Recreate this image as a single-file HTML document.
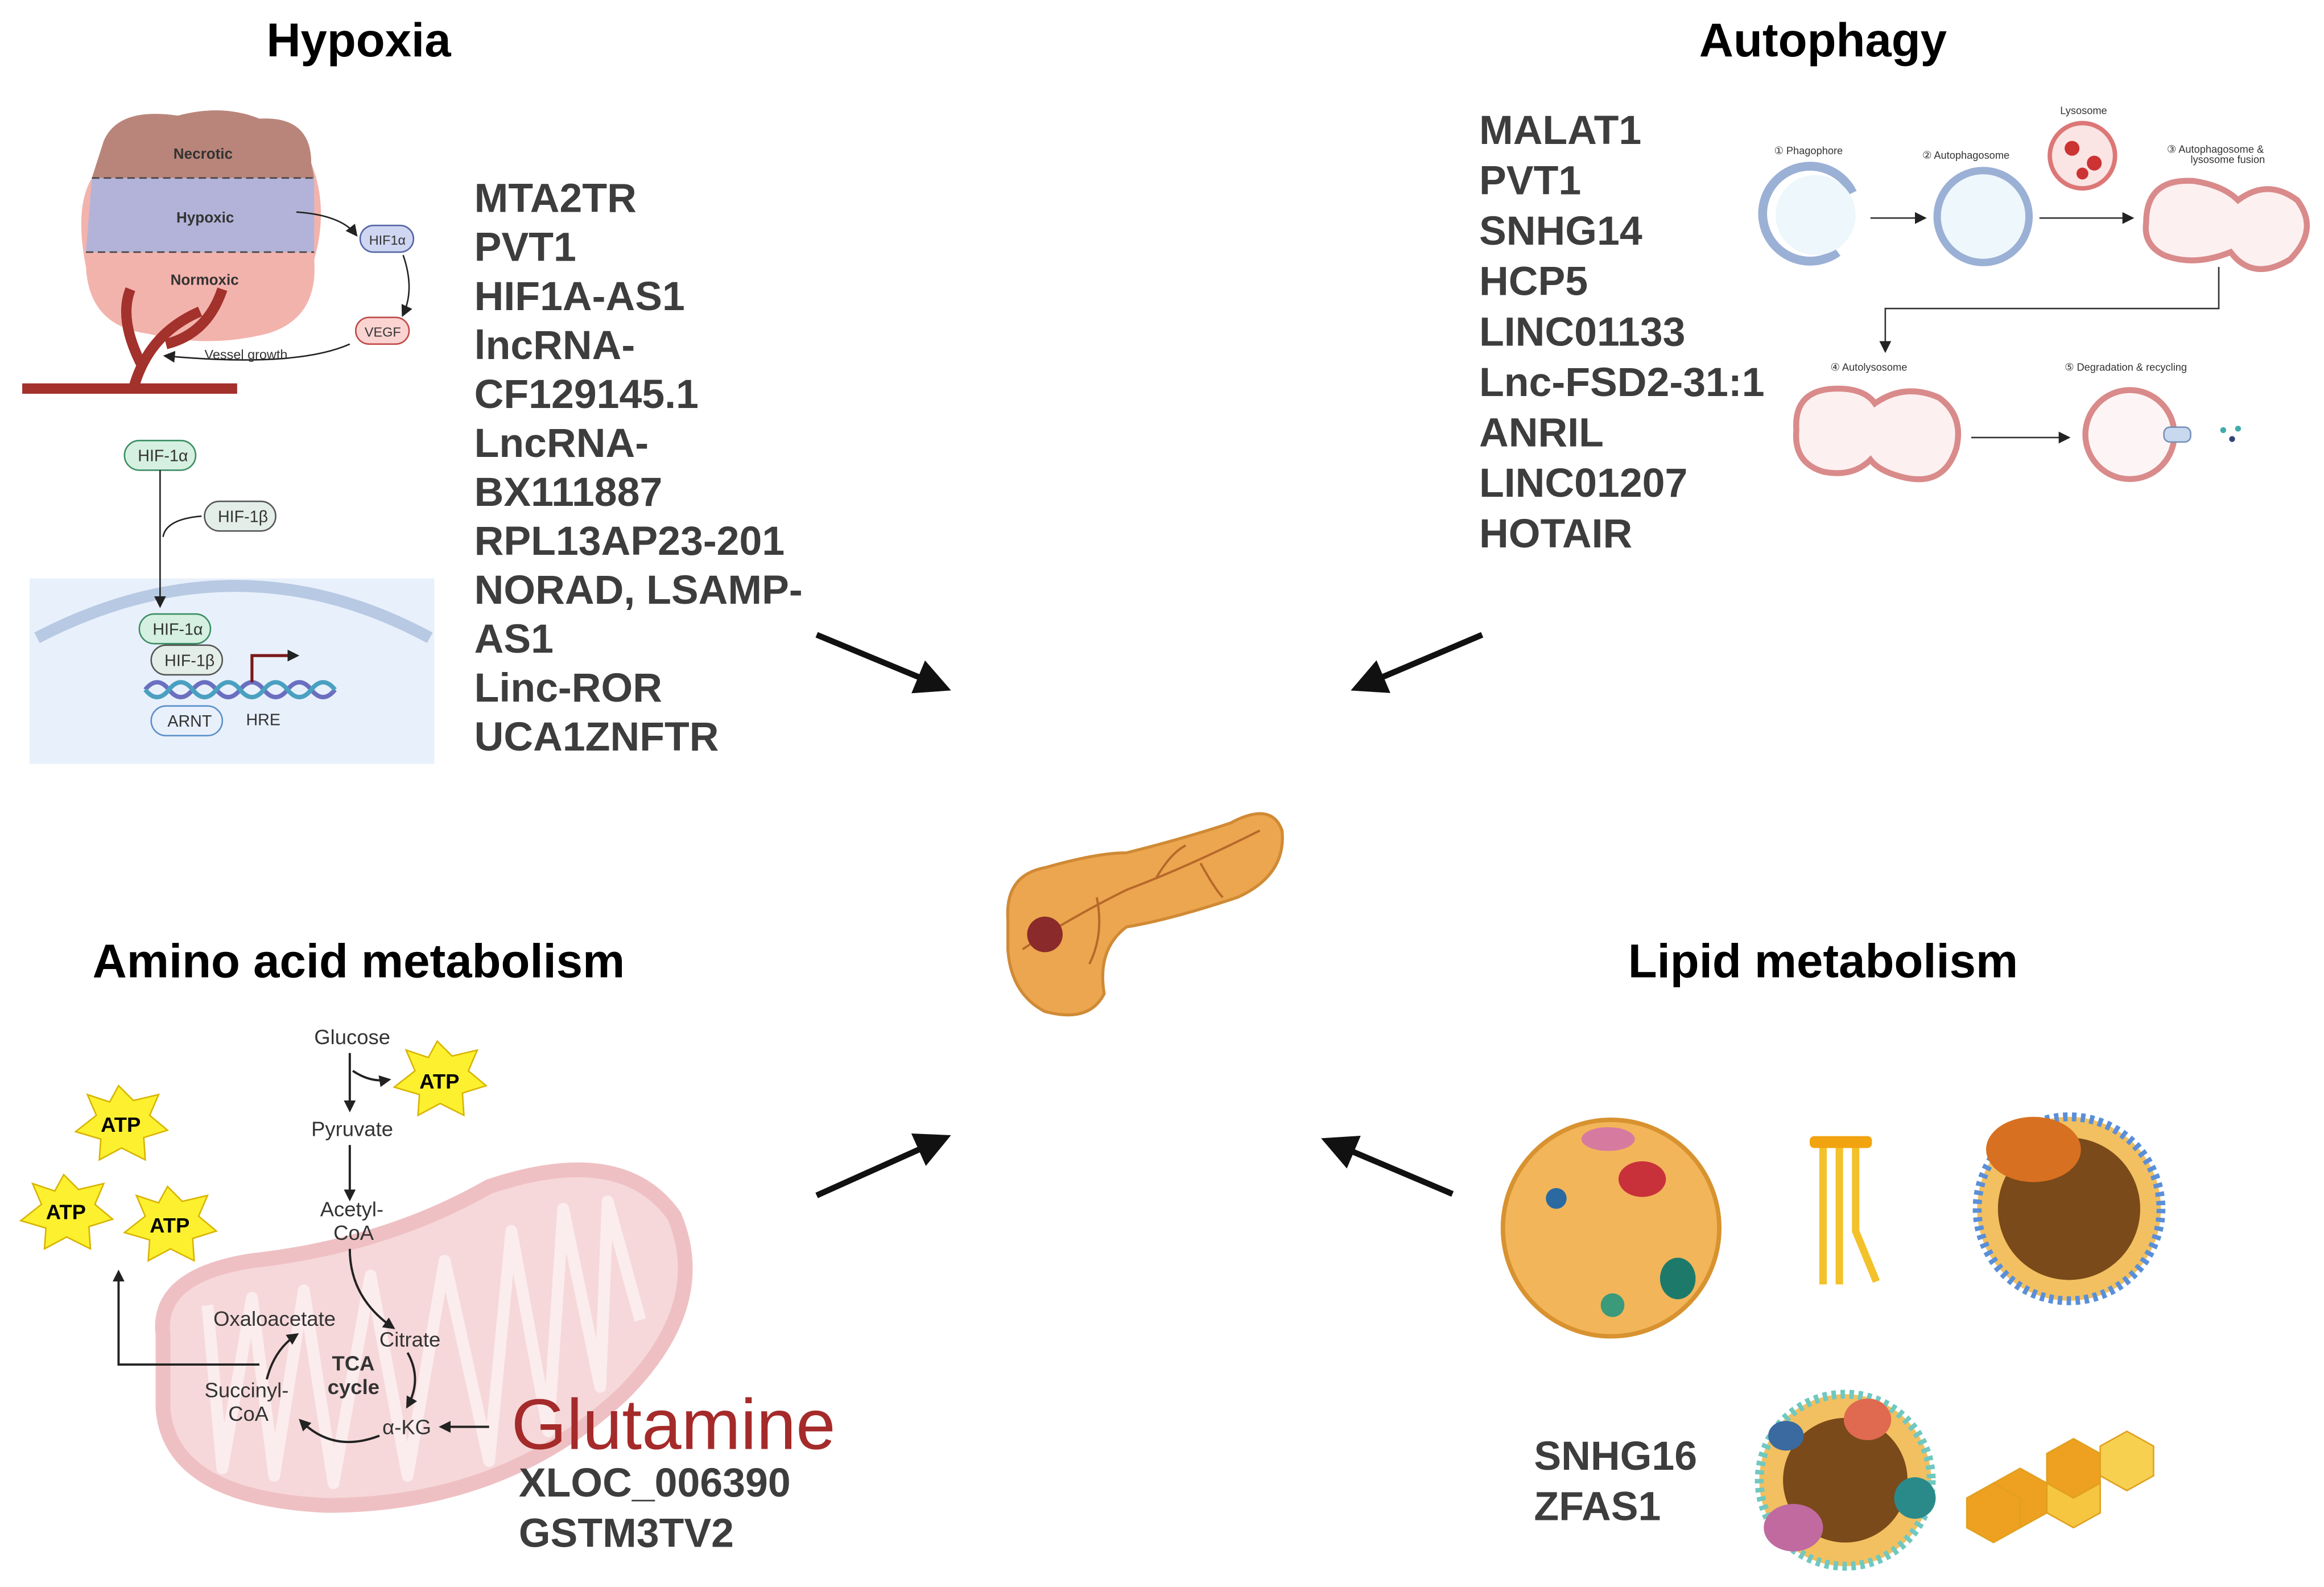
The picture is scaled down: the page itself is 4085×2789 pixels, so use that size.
<!DOCTYPE html>
<html><head><meta charset="utf-8"><style>
html,body{margin:0;padding:0;background:#fff;}
svg{display:block;}
text{font-family:"Liberation Sans",sans-serif;}
.t{font-weight:bold;font-size:32px;fill:#000;text-anchor:middle;}
.g{font-weight:bold;font-size:27.5px;fill:#3d3d3d;}
.s{fill:#333;}
.m{font-size:14px;fill:#333;}
</style></head><body>
<svg width="4085" height="2789" viewBox="0 0 1568 1070" preserveAspectRatio="none" xmlns="http://www.w3.org/2000/svg">
<defs>
<marker id="ah" markerWidth="6" markerHeight="6" refX="5" refY="3" orient="auto" markerUnits="strokeWidth"><path d="M0,0 L6,3 L0,6 z" fill="#111"/></marker>
<marker id="sa" markerWidth="8" markerHeight="8" refX="6" refY="4" orient="auto" markerUnits="userSpaceOnUse"><path d="M0,0 L8,4 L0,8 z" fill="#222"/></marker>
</defs>
<text class="t" x="242" y="38">Hypoxia</text>
<text class="t" x="1230" y="38">Autophagy</text>
<text class="t" x="242" y="659">Amino acid metabolism</text>
<text class="t" x="1230" y="659">Lipid metabolism</text>

<path d="M70,95 Q80,72 120,78 Q150,70 175,80 Q210,78 210,110 Q222,140 212,175 Q215,215 180,225 Q140,235 100,225 Q60,220 58,180 Q50,140 62,120 Z" fill="#f3b3ad"/>
<path d="M62,120 L212,120 L212,170 L58,170 Z" fill="#a7b3e0" opacity="0.85"/>
<path d="M70,95 Q80,72 120,78 Q150,70 175,80 Q210,78 210,110 L212,120 L62,120 Z" fill="#b9857a"/>
<line x1="62" y1="120" x2="212" y2="120" stroke="#444" stroke-dasharray="5,3"/>
<line x1="58" y1="170" x2="212" y2="170" stroke="#444" stroke-dasharray="5,3"/>
<text class="s" x="117" y="107" font-weight="bold" font-size="10">Necrotic</text>
<text class="s" x="119" y="150" font-weight="bold" font-size="10">Hypoxic</text>
<text class="s" x="115" y="192" font-weight="bold" font-size="10">Normoxic</text>
<path d="M15,262 L160,262 M90,262 Q100,225 135,210 M95,245 Q80,215 88,195 M112,232 Q140,225 150,195" stroke="#a3312c" stroke-width="7" fill="none"/>
<rect x="243" y="152" width="36" height="18" rx="9" fill="#cfd6f2" stroke="#5565a5"/><text class="s" x="249" y="165" font-size="9">HIF1α</text>
<rect x="240" y="214" width="36" height="18" rx="9" fill="#fbd4d2" stroke="#c04a48"/><text class="s" x="246" y="227" font-size="9">VEGF</text>
<path d="M200,143 Q230,145 240,158" stroke="#222" fill="none" marker-end="url(#sa)"/>
<path d="M272,172 Q280,195 272,212" stroke="#222" fill="none" marker-end="url(#sa)"/>
<path d="M236,232 Q200,248 112,240" stroke="#222" fill="none" marker-end="url(#sa)"/>
<text class="s" x="138" y="242" font-size="9">Vessel growth</text>

<rect x="20" y="390" width="273" height="125" fill="#e8f0fb"/>
<path d="M25,430 Q160,360 290,430" stroke="#b7c9e3" stroke-width="8" fill="none"/>
<rect x="84" y="297" width="48" height="20" rx="10" fill="#d5f0e0" stroke="#3b8d63"/><text class="s" x="93" y="311" font-size="11">HIF-1α</text>
<rect x="138" y="338" width="48" height="20" rx="10" fill="#e4eee8" stroke="#555"/><text class="s" x="147" y="352" font-size="11">HIF-1β</text>
<line x1="108" y1="317" x2="108" y2="408" stroke="#222" marker-end="url(#sa)"/>
<path d="M136,348 Q112,350 110,362" stroke="#222" fill="none"/>
<rect x="94" y="414" width="48" height="20" rx="10" fill="#d5f0e0" stroke="#3b8d63"/><text class="s" x="103" y="428" font-size="11">HIF-1α</text>
<rect x="102" y="435" width="48" height="20" rx="10" fill="#e4eee8" stroke="#555"/><text class="s" x="111" y="449" font-size="11">HIF-1β</text>
<path d="M98,465 q8,-10 16,0 t16,0 t16,0 t16,0 t16,0 t16,0 t16,0 t16,0" stroke="#6a6fc0" stroke-width="3" fill="none"/>
<path d="M98,465 q8,10 16,0 t16,0 t16,0 t16,0 t16,0 t16,0 t16,0 t16,0" stroke="#4aa0c0" stroke-width="3" fill="none"/>
<path d="M170,460 L170,442 L200,442" stroke="#7a1a1a" stroke-width="2" fill="none" marker-end="url(#sa)"/>
<rect x="102" y="476" width="48" height="20" rx="10" fill="#e8f0fb" stroke="#5b8fc9"/><text class="s" x="113" y="490" font-size="11">ARNT</text>
<text class="s" x="166" y="489" font-size="11" fill="#8a2a2a">HRE</text>

<text class="g" x="320" y="143">MTA2TR</text>
<text class="g" x="320" y="176">PVT1</text>
<text class="g" x="320" y="209">HIF1A-AS1</text>
<text class="g" x="320" y="242">lncRNA-</text>
<text class="g" x="320" y="275">CF129145.1</text>
<text class="g" x="320" y="308">LncRNA-</text>
<text class="g" x="320" y="341">BX111887</text>
<text class="g" x="320" y="374">RPL13AP23-201</text>
<text class="g" x="320" y="407">NORAD, LSAMP-</text>
<text class="g" x="320" y="440">AS1</text>
<text class="g" x="320" y="473">Linc-ROR</text>
<text class="g" x="320" y="506">UCA1ZNFTR</text>

<text class="g" x="998" y="97">MALAT1</text>
<text class="g" x="998" y="131">PVT1</text>
<text class="g" x="998" y="165">SNHG14</text>
<text class="g" x="998" y="199">HCP5</text>
<text class="g" x="998" y="233">LINC01133</text>
<text class="g" x="998" y="267">Lnc-FSD2-31:1</text>
<text class="g" x="998" y="301">ANRIL</text>
<text class="g" x="998" y="335">LINC01207</text>
<text class="g" x="998" y="369">HOTAIR</text>

<text class="s" x="1390" y="77" font-size="7">Lysosome</text>
<circle cx="1405" cy="105" r="22" fill="#fbe4e4" stroke="#d77" stroke-width="3"/>
<circle cx="1398" cy="100" r="5" fill="#c33"/><circle cx="1413" cy="110" r="5" fill="#c33"/><circle cx="1405" cy="117" r="4" fill="#c33"/>
<text class="s" x="1197" y="104" font-size="7">① Phagophore</text>
<path d="M1250,130 A32,32 0 1 0 1240,170" stroke="#9bb0d5" stroke-width="6" fill="none"/>
<circle cx="1225" cy="145" r="27" fill="#eef7fb"/>
<text class="s" x="1297" y="107" font-size="7">② Autophagosome</text>
<circle cx="1338" cy="146" r="31" fill="#eef7fb" stroke="#9bb0d5" stroke-width="5"/>
<line x1="1262" y1="147" x2="1298" y2="147" stroke="#333" marker-end="url(#sa)"/>
<line x1="1376" y1="147" x2="1438" y2="147" stroke="#333" marker-end="url(#sa)"/>
<text class="s" x="1462" y="103" font-size="7">③ Autophagosome &amp;</text>
<text class="s" x="1478" y="110" font-size="7">lysosome fusion</text>
<path d="M1448,150 Q1448,120 1480,122 Q1500,125 1510,135 Q1530,120 1550,135 Q1565,155 1545,175 Q1520,190 1505,170 Q1480,180 1460,172 Q1446,165 1448,150Z" fill="#fdf0f0" stroke="#d98a8a" stroke-width="4"/>
<path d="M1497,180 L1497,208 L1272,208 L1272,236" stroke="#333" fill="none" marker-end="url(#sa)"/>
<text class="s" x="1235" y="250" font-size="7">④ Autolysosome</text>
<path d="M1212,290 Q1210,262 1240,262 Q1258,262 1265,272 Q1285,258 1308,268 Q1325,280 1320,302 Q1312,328 1285,322 Q1268,318 1262,310 Q1250,322 1230,318 Q1210,312 1212,290Z" fill="#fdf0f0" stroke="#d98a8a" stroke-width="4"/>
<line x1="1330" y1="295" x2="1395" y2="295" stroke="#333" marker-end="url(#sa)"/>
<text class="s" x="1393" y="250" font-size="7">⑤ Degradation &amp; recycling</text>
<circle cx="1437" cy="293" r="30" fill="#fdf5f5" stroke="#d98a8a" stroke-width="4"/>
<rect x="1460" y="288" width="18" height="10" rx="4" fill="#c8d8ee" stroke="#7790b8"/>
<circle cx="1500" cy="290" r="2" fill="#4aa"/><circle cx="1506" cy="296" r="2" fill="#347"/><circle cx="1510" cy="289" r="2" fill="#4aa"/>

<g stroke="#111" stroke-width="4" fill="none">
<line x1="551" y1="428" x2="638" y2="464" marker-end="url(#ah)"/>
<line x1="1000" y1="428" x2="915" y2="464" marker-end="url(#ah)"/>
<line x1="551" y1="806" x2="638" y2="767" marker-end="url(#ah)"/>
<line x1="980" y1="805" x2="895" y2="769" marker-end="url(#ah)"/>
</g>

<path d="M680,620 Q678,590 705,585 Q740,575 760,575 Q800,565 830,555 Q858,540 865,560 Q868,590 835,605 Q790,620 760,625 Q740,640 745,670 Q735,690 705,682 Q682,670 680,640Z" fill="#eba64f" stroke="#d08a35" stroke-width="2"/>
<path d="M690,640 Q720,620 760,600 Q800,585 850,560 M740,605 Q745,630 735,650 M780,592 Q790,575 800,570 M810,582 Q820,600 825,605" stroke="#b8682a" stroke-width="1.5" fill="none"/>
<circle cx="705" cy="630" r="12" fill="#8a2a2a"/>

<path d="M110,900 Q105,860 170,850 Q260,840 330,800 Q420,770 455,820 Q480,880 420,940 Q340,1015 220,1015 Q115,1010 110,950Z" fill="#f6d8da" stroke="#efc0c3" stroke-width="10"/>
<path d="M140,880 L150,990 L170,875 L185,995 L205,870 L225,1000 L250,860 L275,995 L300,850 L330,985 L345,830 L370,965 L380,815 L405,935 L410,810 L432,890" stroke="#fbeced" stroke-width="8" fill="none" stroke-linejoin="round"/>
<g font-weight="bold" font-size="14">
<polygon points="295,702 305,712 322,708 316,722 328,732 312,737 313,752 297,744 282,752 283,738 266,733 280,722 274,708 289,713" fill="#fdf12f" stroke="#d8b400"/>
<text x="283" y="734">ATP</text>
<polygon points="80,732 90,742 107,738 101,752 113,762 97,767 98,782 82,774 67,782 68,768 51,763 65,752 59,738 74,743" fill="#fdf12f" stroke="#d8b400"/>
<text x="68" y="763">ATP</text>
<polygon points="43,792 53,802 70,798 64,812 76,822 60,827 61,842 45,834 30,842 31,828 14,823 28,812 22,798 37,803" fill="#fdf12f" stroke="#d8b400"/>
<text x="31" y="822">ATP</text>
<polygon points="113,800 123,810 140,806 134,820 146,830 130,835 131,850 115,842 100,850 101,836 84,831 98,820 92,806 107,811" fill="#fdf12f" stroke="#d8b400"/>
<text x="101" y="831">ATP</text>
</g>
<text class="m" x="212" y="704">Glucose</text>
<text class="m" x="210" y="766">Pyruvate</text>
<text class="m" x="216" y="820">Acetyl-</text><text class="m" x="225" y="836">CoA</text>
<text class="m" x="144" y="894">Oxaloacetate</text>
<text class="m" x="256" y="908">Citrate</text>
<text class="m" x="224" y="924" font-weight="bold">TCA</text><text class="m" x="221" y="940" font-weight="bold">cycle</text>
<text class="m" x="138" y="942">Succinyl-</text><text class="m" x="154" y="958">CoA</text>
<text class="m" x="258" y="967">α-KG</text>
<g stroke="#222" stroke-width="1.5" fill="none">
<line x1="236" y1="710" x2="236" y2="748" marker-end="url(#sa)"/>
<path d="M238,722 Q250,730 262,728" marker-end="url(#sa)"/>
<line x1="236" y1="772" x2="236" y2="808" marker-end="url(#sa)"/>
<path d="M236,842 Q236,875 265,895" marker-end="url(#sa)"/>
<path d="M275,912 Q285,930 275,948" marker-end="url(#sa)"/>
<path d="M256,968 Q225,980 203,958" marker-end="url(#sa)"/>
<path d="M180,930 Q185,910 200,900" marker-end="url(#sa)"/>
<path d="M175,920 L80,920 L80,858" marker-end="url(#sa)"/>
<line x1="330" y1="962" x2="298" y2="962" marker-end="url(#sa)"/>
</g>
<text x="345" y="977" font-size="48" fill="#a52a2a">Glutamine</text>
<text class="g" x="350" y="1009">XLOC_006390</text>
<text class="g" x="350" y="1043">GSTM3TV2</text>

<circle cx="1087" cy="828" r="73" fill="#f2b55a" stroke="#d8922f" stroke-width="3"/>
<ellipse cx="1108" cy="795" rx="16" ry="12" fill="#c9313a"/>
<ellipse cx="1085" cy="768" rx="18" ry="8" fill="#d77aa0"/>
<ellipse cx="1132" cy="862" rx="12" ry="14" fill="#1d7a6a"/>
<circle cx="1050" cy="808" r="7" fill="#2a6aa0"/>
<circle cx="1088" cy="880" r="8" fill="#3a9a7a"/>
<rect x="1221" y="766" width="42" height="8" rx="3" fill="#f2a310"/>
<g stroke="#f3c12a" stroke-width="5"><line x1="1230" y1="774" x2="1230" y2="866"/><line x1="1241" y1="774" x2="1241" y2="866"/><path d="M1252,774 L1252,830 L1266,864" fill="none"/></g>
<circle cx="1396" cy="815" r="62" fill="#f2c060" stroke="#5a8fd8" stroke-width="6" stroke-dasharray="3,3"/>
<circle cx="1396" cy="815" r="48" fill="#7a4a1a"/>
<ellipse cx="1372" cy="775" rx="32" ry="22" fill="#d77020"/>
<text class="g" x="1035" y="991">SNHG16</text>
<text class="g" x="1035" y="1025">ZFAS1</text>
<circle cx="1245" cy="998" r="58" fill="#f2c060" stroke="#70c8c0" stroke-width="6" stroke-dasharray="3,3"/>
<circle cx="1245" cy="998" r="42" fill="#7a4a1a"/>
<ellipse cx="1210" cy="1030" rx="20" ry="16" fill="#c06aa0"/>
<ellipse cx="1260" cy="957" rx="16" ry="14" fill="#e06a50"/>
<ellipse cx="1292" cy="1010" rx="14" ry="14" fill="#2a8a8a"/>
<ellipse cx="1205" cy="968" rx="12" ry="10" fill="#3a6aa0"/>
<g stroke="#e0a020" stroke-width="1">
<polygon points="1345,1000 1363,990 1381,1000 1381,1020 1363,1030 1345,1020" fill="#eea020"/>
<polygon points="1381,1000 1399,990 1417,1000 1417,1020 1399,1030 1381,1020" fill="#f7c640"/>
<polygon points="1381,980 1399,970 1417,980 1417,1000 1399,1010 1381,1000" fill="#eea020"/>
<polygon points="1417,975 1435,965 1453,975 1453,995 1435,1005 1417,995" fill="#f7d050"/>
<polygon points="1327,1010 1345,1000 1363,1010 1363,1030 1345,1040 1327,1030" fill="#eea020"/>
</g>
</svg>
</body></html>
